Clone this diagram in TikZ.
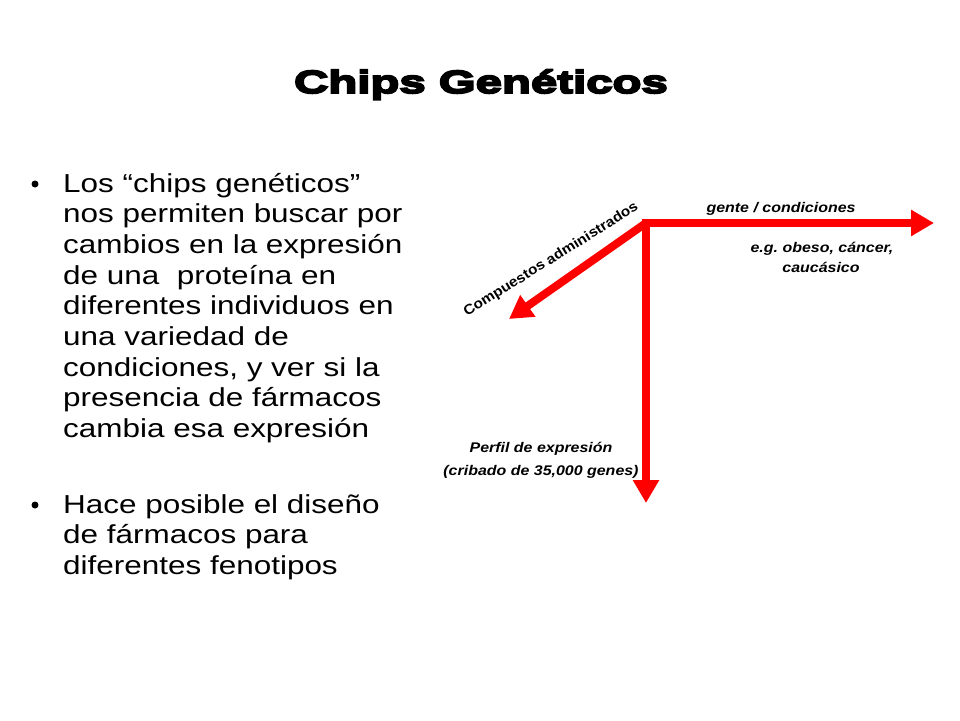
\documentclass[tikz,border=0pt]{standalone}
\usepackage{fontspec}
\setmainfont{Liberation Sans}
\newfontfamily\titlefont{Liberation Sans Bold}[FakeBold=6,FakeStretch=1.48]
\newfontfamily\bodyfont{Liberation Sans}[FakeStretch=1.21]
\newfontfamily\lblfont{Liberation Sans Bold Italic}[FakeStretch=1.14]
\newfontfamily\lblupfont{Liberation Sans Bold}[FakeStretch=1.1]
\usetikzlibrary{arrows.meta}
\definecolor{arrred}{RGB}{255,0,0}
\tikzset{
  bodyline/.style={anchor=base west, inner sep=0pt, font=\bodyfont\fontsize{26}{30}\selectfont},
  bulletdot/.style={circle, fill=black, inner sep=0pt, minimum size=7pt},
  lbl/.style={anchor=base, inner sep=0pt, font=\lblfont\fontsize{14}{16}\selectfont},
  redarrow/.style={draw=arrred, line width=8pt, -{Triangle[width=25pt,length=23pt]}},
}
\frenchspacing
\begin{document}
\begin{tikzpicture}[x=1pt,y=-1pt]
\fill[white] (0,0) rectangle (960,720);
\useasboundingbox (0,0) rectangle (960,720);
% title
\node[anchor=base, inner sep=0pt, font=\titlefont\fontsize{32}{38}\selectfont] (title) at (481,93) {Chips Genéticos};
% bullets
\node[bulletdot] (d1) at (35,184) {};
\node[bulletdot] (d2) at (35,505) {};
\foreach \t [count=\i] in {Los “chips genéticos”, nos permiten buscar por, cambios en la expresión, de una\ \ proteína en, diferentes individuos en, una variedad de, {condiciones, y ver si la}, presencia de fármacos, cambia esa expresión}
  \node[bodyline] (a\i) at (63,{192+30.7*(\i-1)}) {\t};
\foreach \t [count=\i] in {Hace posible el diseño, de fármacos para, diferentes fenotipos}
  \node[bodyline] (b\i) at (63,{513+30.7*(\i-1)}) {\t};
% arrows
\coordinate (o) at (646,223);
\coordinate (e) at (934,223);
\coordinate (s) at (646,503);
\coordinate (sw) at (509,319);
\draw[redarrow] ([xshift=-4pt]o) -- (e);
\draw[redarrow] ([yshift=-4pt]o) -- (s);
\draw[redarrow] (o) -- (sw);
% labels
\node[lbl] (gente) at (781,212) {gente / condiciones};
\node[lbl] (eg1) at (822,252) {e.g. obeso, cáncer,};
\node[lbl] (eg2) at (821,272) {caucásico};
\node[lbl] (perf1) at (541,452) {Perfil de expresión};
\node[lbl] (perf2) at (541,475) {(cribado de 35,000 genes)};
\node[lbl, font=\lblupfont\fontsize{14}{16}\selectfont, rotate=32] (comp) at (553,263) {Compuestos administrados};
\end{tikzpicture}
\end{document}
